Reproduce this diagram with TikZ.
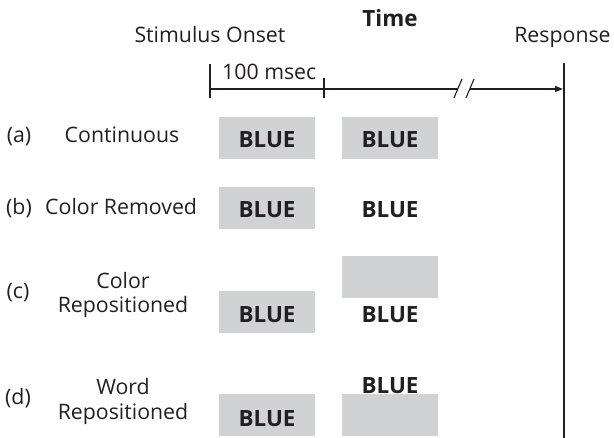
\documentclass[tikz,border=0pt]{standalone}
\usepackage{fontspec}
\setmainfont{Open Sans}
\usetikzlibrary{arrows.meta}
\definecolor{boxgray}{RGB}{209,210,212}
\definecolor{inkc}{RGB}{35,31,32}
\tikzset{
  lbl/.style={inner sep=0pt, anchor=base, font=\fontsize{21.3}{24}\selectfont, text=inkc},
  word/.style={inner sep=0pt, anchor=base, font=\bfseries\fontsize{22.4}{25}\selectfont, text=inkc},
  gbox/.style={fill=boxgray, draw=none, minimum width=96pt, minimum height=42pt, inner sep=0pt},
  tline/.style={draw=inkc, line width=1.5pt},
  tick/.style={draw=inkc, line width=1.1pt},
}
\begin{document}
\begin{tikzpicture}[x=1pt,y=-1pt]
\useasboundingbox (0,0) rectangle (614,438);
% header labels
\node[word] (time) at (390,27) {Time};
\node[lbl] (onset) at (210,43) {Stimulus Onset};
\node[lbl] (resp) at (562.5,43) {Response};
\node[lbl, anchor=base west] (msec) at (222,80) {100 msec};
% timeline
\coordinate (t0) at (210,89);
\coordinate (b1) at (458,89);
\coordinate (b2) at (470,89);
\coordinate (tend) at (563,89);
\coordinate (t0top) at (210,64);
\coordinate (t0bot) at (210,98);
\coordinate (t1top) at (324,78);
\coordinate (t1bot) at (324,98);
\coordinate (rtop) at (564,63);
\coordinate (rbot) at (564,438);
\coordinate (s1a) at (454,98);
\coordinate (s1b) at (462,79);
\coordinate (s2a) at (466,98);
\coordinate (s2b) at (474,79);
\draw[tline] (t0) -- (b1);
\draw[tline, -{Triangle[length=8pt,width=6pt]}] (b2) -- (tend);
\draw[tick] (t0top) -- (t0bot);
\draw[tick] (t1top) -- (t1bot);
\draw[tick] (rtop) -- (rbot);
\draw[tick] (s1a) -- (s1b);
\draw[tick] (s2a) -- (s2b);
% row labels
\node[lbl] (la) at (19,143) {(a)};
\node[lbl] (na) at (122,143) {Continuous};
\node[lbl] (lb) at (19,215) {(b)};
\node[lbl, anchor=base west] (nb) at (45,215) {Color Removed};
\node[lbl] (lc) at (18,299) {(c)};
\node[lbl] (nc1) at (123,289) {Color};
\node[lbl] (nc2) at (123,313) {Repositioned};
\node[lbl] (ld) at (18,405) {(d)};
\node[lbl] (nd1) at (123,395) {Word};
\node[lbl] (nd2) at (123,420) {Repositioned};
% boxes
\node[gbox] (a1) at (267,138) {};
\node[gbox] (a2) at (390,138) {};
\node[gbox] (b1box) at (267,208) {};
\node[gbox] (c1) at (267,312) {};
\node[gbox] (c2) at (390,277.5) {};
\node[gbox] (d1) at (267,415.5) {};
\node[gbox] (d2) at (390,415.5) {};
% words
\node[word] (a1w) at (a1.center |- 0,148) {BLUE};
\node[word] (a2w) at (a2.center |- 0,148) {BLUE};
\node[word] (b1w) at (b1box.center |- 0,218) {BLUE};
\node[word] (b2w) at (390,218) {BLUE};
\node[word] (c1w) at (c1.center |- 0,323) {BLUE};
\node[word] (c2w) at (c2.center |- 0,323) {BLUE};
\node[word] (d1w) at (d1.center |- 0,427) {BLUE};
\node[word] (d2w) at (d2.center |- 0,394) {BLUE};
\end{tikzpicture}
\end{document}
